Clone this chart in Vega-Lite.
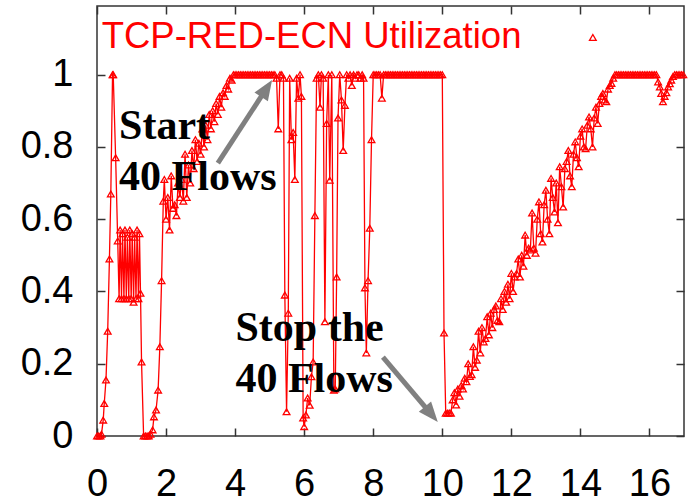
{
  "$schema": "https://vega.github.io/schema/vega-lite/v6.json",
  "width": 587,
  "height": 430,
  "autosize": {"type": "none"},
  "padding": {"left": 97, "top": 6, "right": 5, "bottom": 66},
  "background": "white",
  "config": {
    "view": {"stroke": "#333333", "strokeWidth": 1.5},
    "axis": {
      "grid": false,
      "domain": false,
      "title": null,
      "tickColor": "#333333",
      "tickWidth": 1.5,
      "tickSize": -8,
      "labelFlush": false,
      "labelColor": "#000000"
    }
  },
  "datasets": {
    "util": [
      {"t":0,"u":0},{"t":0.05,"u":0},{"t":0.1,"u":0},{"t":0.13,"u":0.005},{"t":0.18,"u":0.044},{"t":0.21,"u":0.09},{"t":0.26,"u":0.155},{"t":0.31,"u":0.29},{"t":0.36,"u":0.49},{"t":0.4,"u":0.67},{"t":0.45,"u":1},{"t":0.47,"u":1},{"t":0.54,"u":0.77},{"t":0.6,"u":0.54},{"t":0.64,"u":0.38},{"t":0.67,"u":0.57},{"t":0.71,"u":0.38},{"t":0.74,"u":0.56},{"t":0.78,"u":0.38},{"t":0.81,"u":0.57},{"t":0.85,"u":0.38},{"t":0.88,"u":0.55},{"t":0.92,"u":0.38},{"t":0.95,"u":0.57},{"t":0.99,"u":0.38},{"t":1.02,"u":0.56},{"t":1.06,"u":0.37},{"t":1.09,"u":0.55},{"t":1.13,"u":0.38},{"t":1.16,"u":0.57},{"t":1.2,"u":0.38},{"t":1.23,"u":0.56},{"t":1.26,"u":0.395},{"t":1.29,"u":0.205},{"t":1.35,"u":0},{"t":1.4,"u":0},{"t":1.45,"u":0},{"t":1.5,"u":0},{"t":1.55,"u":0.005},{"t":1.61,"u":0.017},{"t":1.65,"u":0.053},{"t":1.71,"u":0.072},{"t":1.77,"u":0.127},{"t":1.82,"u":0.247},{"t":1.87,"u":0.43},{"t":1.92,"u":0.65},{"t":1.95,"u":0.71},
      {"t":2.0,"u":0.6},{"t":2.05,"u":0.66},{"t":2.1,"u":0.57},{"t":2.15,"u":0.72},{"t":2.2,"u":0.63},{"t":2.25,"u":0.64},{"t":2.3,"u":0.61},{"t":2.35,"u":0.7},{"t":2.4,"u":0.66},{"t":2.45,"u":0.71},{"t":2.5,"u":0.65},{"t":2.55,"u":0.78},{"t":2.6,"u":0.66},{"t":2.65,"u":0.75},{"t":2.7,"u":0.7},{"t":2.75,"u":0.79},{"t":2.8,"u":0.74},{"t":2.85,"u":0.82},{"t":2.9,"u":0.76},{"t":2.95,"u":0.81},{"t":3.0,"u":0.78},{"t":3.05,"u":0.85},{"t":3.1,"u":0.8},{"t":3.15,"u":0.86},{"t":3.2,"u":0.82},{"t":3.25,"u":0.89},{"t":3.3,"u":0.85},{"t":3.35,"u":0.9},{"t":3.4,"u":0.87},{"t":3.45,"u":0.92},{"t":3.5,"u":0.89},{"t":3.55,"u":0.94},{"t":3.6,"u":0.91},{"t":3.65,"u":0.95},{"t":3.7,"u":0.94},{"t":3.75,"u":0.97},{"t":3.8,"u":0.96},{"t":3.85,"u":0.99},{"t":3.9,"u":0.985},{"t":3.95,"u":1},
      {"t":4.0,"u":1},{"t":4.05,"u":1},{"t":4.1,"u":1},{"t":4.15,"u":1},{"t":4.2,"u":1},{"t":4.25,"u":1},{"t":4.3,"u":1},{"t":4.35,"u":1},{"t":4.4,"u":1},{"t":4.45,"u":1},{"t":4.5,"u":1},{"t":4.55,"u":1},{"t":4.6,"u":1},{"t":4.65,"u":1},{"t":4.7,"u":1},{"t":4.75,"u":1},{"t":4.8,"u":1},{"t":4.85,"u":1},{"t":4.9,"u":1},{"t":4.95,"u":1},{"t":5.0,"u":1},{"t":5.05,"u":1},{"t":5.1,"u":1},{"t":5.15,"u":1},
      {"t":5.2,"u":0.99},{"t":5.25,"u":0.85},{"t":5.3,"u":1},{"t":5.35,"u":1},{"t":5.4,"u":0.99},{"t":5.44,"u":0.39},{"t":5.49,"u":0.067},{"t":5.54,"u":0.34},{"t":5.58,"u":0.99},{"t":5.63,"u":0.82},{"t":5.68,"u":0.84},{"t":5.73,"u":0.71},{"t":5.78,"u":0.99},{"t":5.83,"u":0.935},{"t":5.88,"u":1},{"t":5.92,"u":0.94},{"t":5.97,"u":0.05},{"t":6.0,"u":0.026},{"t":6.05,"u":0.058},{"t":6.1,"u":0.105},{"t":6.16,"u":0.085},{"t":6.21,"u":0.164},{"t":6.26,"u":0.205},{"t":6.31,"u":0.61},{"t":6.36,"u":0.99},{"t":6.41,"u":1},{"t":6.46,"u":0.91},{"t":6.5,"u":1},{"t":6.55,"u":0.99},{"t":6.6,"u":0.316},{"t":6.65,"u":0.865},{"t":6.7,"u":1},{"t":6.74,"u":0.708},{"t":6.8,"u":1},{"t":6.86,"u":0.127},{"t":6.9,"u":0.13},{"t":6.94,"u":0.44},{"t":6.98,"u":0.88},{"t":7.03,"u":1},{"t":7.08,"u":0.93},{"t":7.13,"u":0.79},{"t":7.18,"u":0.915},{"t":7.23,"u":1},{"t":7.28,"u":0.99},{"t":7.33,"u":1},{"t":7.38,"u":0.97},{"t":7.43,"u":1},{"t":7.48,"u":0.99},{"t":7.53,"u":1},{"t":7.58,"u":1},{"t":7.63,"u":0.99},{"t":7.68,"u":1},{"t":7.72,"u":0.99},{"t":7.76,"u":0.41},{"t":7.8,"u":0.23},{"t":7.85,"u":0.43},{"t":7.9,"u":0.575},{"t":7.95,"u":0.82},
      {"t":8.0,"u":1},{"t":8.05,"u":1},{"t":8.1,"u":1},{"t":8.15,"u":1},{"t":8.2,"u":1},{"t":8.25,"u":0.935},{"t":8.3,"u":1},{"t":8.35,"u":1},{"t":8.4,"u":1},{"t":8.45,"u":1},{"t":8.5,"u":1},{"t":8.55,"u":1},{"t":8.6,"u":1},{"t":8.65,"u":1},{"t":8.7,"u":1},{"t":8.75,"u":1},{"t":8.8,"u":1},{"t":8.85,"u":1},{"t":8.9,"u":1},{"t":8.95,"u":1},{"t":9.0,"u":1},{"t":9.05,"u":1},{"t":9.1,"u":1},{"t":9.15,"u":1},{"t":9.2,"u":1},{"t":9.25,"u":1},{"t":9.3,"u":1},{"t":9.35,"u":1},{"t":9.4,"u":1},{"t":9.45,"u":1},{"t":9.5,"u":1},{"t":9.55,"u":1},{"t":9.6,"u":1},{"t":9.65,"u":1},{"t":9.7,"u":1},{"t":9.75,"u":1},{"t":9.8,"u":1},{"t":9.85,"u":1},{"t":9.9,"u":1},{"t":9.95,"u":1},{"t":10.0,"u":1},
      {"t":10.05,"u":0.285},{"t":10.1,"u":0.063},{"t":10.15,"u":0.063},{"t":10.2,"u":0.064},{"t":10.25,"u":0.063},{"t":10.3,"u":0.1},{"t":10.35,"u":0.12},{"t":10.4,"u":0.086},{"t":10.45,"u":0.13},{"t":10.5,"u":0.11},{"t":10.55,"u":0.14},{"t":10.6,"u":0.13},{"t":10.65,"u":0.16},{"t":10.7,"u":0.15},{"t":10.75,"u":0.2},{"t":10.8,"u":0.165},{"t":10.85,"u":0.17},{"t":10.9,"u":0.247},{"t":10.95,"u":0.19},{"t":11.0,"u":0.21},{"t":11.05,"u":0.29},{"t":11.1,"u":0.23},{"t":11.15,"u":0.3},{"t":11.2,"u":0.26},{"t":11.25,"u":0.27},{"t":11.3,"u":0.33},{"t":11.35,"u":0.28},{"t":11.4,"u":0.34},{"t":11.45,"u":0.3},{"t":11.5,"u":0.35},{"t":11.55,"u":0.36},{"t":11.6,"u":0.32},{"t":11.65,"u":0.316},{"t":11.7,"u":0.38},{"t":11.75,"u":0.35},{"t":11.8,"u":0.4},{"t":11.85,"u":0.37},{"t":11.9,"u":0.42},{"t":11.95,"u":0.38},{"t":12.0,"u":0.45},{"t":12.05,"u":0.4},{"t":12.1,"u":0.44},{"t":12.15,"u":0.45},{"t":12.2,"u":0.49},{"t":12.25,"u":0.44},{"t":12.3,"u":0.5},{"t":12.35,"u":0.47},{"t":12.4,"u":0.556},{"t":12.45,"u":0.5},{"t":12.5,"u":0.52},{"t":12.55,"u":0.515},{"t":12.6,"u":0.617},{"t":12.65,"u":0.52},{"t":12.7,"u":0.506},{"t":12.75,"u":0.6},{"t":12.8,"u":0.648},{"t":12.85,"u":0.56},{"t":12.9,"u":0.537},{"t":12.95,"u":0.64},{"t":13.0,"u":0.68},{"t":13.05,"u":0.6},{"t":13.1,"u":0.56},{"t":13.15,"u":0.713},{"t":13.2,"u":0.66},{"t":13.25,"u":0.62},{"t":13.3,"u":0.7},{"t":13.35,"u":0.59},{"t":13.4,"u":0.745},{"t":13.45,"u":0.69},{"t":13.5,"u":0.634},{"t":13.55,"u":0.74},{"t":13.6,"u":0.76},{"t":13.65,"u":0.79},{"t":13.7,"u":0.72},{"t":13.75,"u":0.69},{"t":13.8,"u":0.78},{"t":13.85,"u":0.814},{"t":13.9,"u":0.77},{"t":13.95,"u":0.745},{"t":14.0,"u":0.83},{"t":14.05,"u":0.85},{"t":14.1,"u":0.8},{"t":14.15,"u":0.795},{"t":14.2,"u":0.86},{"t":14.25,"u":0.883},{"t":14.3,"u":0.85},{"t":14.35,"u":0.8},{"t":14.4,"u":0.88},{"t":14.45,"u":0.91},{"t":14.5,"u":0.865},{"t":14.55,"u":0.92},{"t":14.6,"u":0.94},{"t":14.65,"u":0.948},{"t":14.7,"u":0.93},{"t":14.75,"u":0.925},{"t":14.8,"u":0.96},{"t":14.85,"u":0.97},{"t":14.9,"u":0.976},{"t":14.95,"u":0.99},{"t":15.0,"u":1},
      {"t":15.05,"u":1},{"t":15.1,"u":1},{"t":15.15,"u":1},{"t":15.2,"u":1},{"t":15.25,"u":1},{"t":15.3,"u":1},{"t":15.35,"u":1},{"t":15.4,"u":1},{"t":15.45,"u":1},{"t":15.5,"u":1},{"t":15.55,"u":1},{"t":15.6,"u":1},{"t":15.65,"u":1},{"t":15.7,"u":1},{"t":15.75,"u":1},{"t":15.8,"u":1},{"t":15.85,"u":1},{"t":15.9,"u":1},{"t":15.95,"u":1},{"t":16.0,"u":1},{"t":16.05,"u":1},{"t":16.1,"u":1},{"t":16.15,"u":1},{"t":16.2,"u":1},{"t":16.25,"u":0.98},{"t":16.3,"u":0.966},{"t":16.34,"u":0.948},{"t":16.39,"u":0.925},{"t":16.44,"u":0.94},{"t":16.49,"u":0.95},{"t":16.54,"u":0.966},{"t":16.59,"u":0.975},{"t":16.63,"u":0.985},{"t":16.68,"u":0.995},{"t":16.73,"u":1},{"t":16.78,"u":1},{"t":16.83,"u":1},{"t":16.88,"u":1},{"t":16.93,"u":1},{"t":16.98,"u":1}
    ],
    "notes": [
      {"t":0.64,"u":0.821,"label":"Start"},
      {"t":0.64,"u":0.680,"label":"40 Flows"},
      {"t":4.01,"u":0.264,"label":"Stop the"},
      {"t":4.01,"u":0.123,"label":"40 Flows"}
    ],
    "arrows": [
      {"id":"start","t":3.5,"u":0.755,"t2":4.8,"u2":0.946,"tipT":5.07,"tipU":0.985},
      {"id":"stop","t":8.28,"u":0.218,"t2":9.55,"u2":0.075,"tipT":9.87,"tipU":0.039}
    ],
    "key": [
      {"t":0.135,"u":1.075,"label":"TCP-RED-ECN Utilization","mt":14.36,"mu":1.103}
    ]
  },
  "layer": [
    {
      "data": {"name": "util"},
      "mark": {"type": "line", "color": "#ff0000", "strokeWidth": 1.3},
      "encoding": {
        "x": {"field": "t", "type": "quantitative", "scale": {"domain": [0, 17], "nice": false},
              "axis": {"orient": "bottom", "values": [0,2,4,6,8,10,12,14,16], "labelPadding": 37, "format": "~g", "labelFlush": false,
                       "labelFont": "Liberation Sans", "labelFontSize": 38, "labelColor": "#000000"}},
        "y": {"field": "u", "type": "quantitative", "scale": {"domain": [0, 1.19], "nice": false, "zero": false},
              "axis": {"orient": "left", "values": [0,0.2,0.4,0.6,0.8,1], "labelPadding": 32, "format": "~g", "labelFlush": false,
                       "labelFont": "Liberation Sans", "labelFontSize": 38, "labelColor": "#000000"}}
      }
    },
    {
      "data": {"name": "util"},
      "mark": {"type": "point", "shape": "triangle-up", "filled": false, "color": "#ff0000", "size": 45, "strokeWidth": 1.3, "opacity": 1},
      "encoding": {
        "x": {"field": "t", "type": "quantitative", "axis": null},
        "y": {"field": "u", "type": "quantitative", "axis": null}
      }
    },
    {
      "data": {"name": "util"},
      "mark": {"type": "point", "opacity": 0},
      "encoding": {
        "x": {"field": "t", "type": "quantitative",
              "axis": {"orient": "top", "values": [0,2,4,6,8,10,12,14,16], "labels": false}},
        "y": {"field": "u", "type": "quantitative",
              "axis": {"orient": "right", "values": [0,0.2,0.4,0.6,0.8,1], "labels": false}}
      }
    },
    {
      "data": {"name": "arrows"},
      "mark": {"type": "rule", "color": "#808080", "strokeWidth": 5},
      "encoding": {
        "x": {"field": "t", "type": "quantitative", "axis": null},
        "y": {"field": "u", "type": "quantitative", "axis": null},
        "x2": {"field": "t2"},
        "y2": {"field": "u2"}
      }
    },
    {
      "data": {"name": "arrows"},
      "transform": [{"filter": "datum.id === 'start'"}],
      "mark": {"type": "point", "shape": "M0,0L-0.8,2L0.8,2Z", "filled": true, "color": "#808080", "size": 400, "angle": 33, "opacity": 1, "strokeWidth": 0},
      "encoding": {
        "x": {"field": "tipT", "type": "quantitative", "axis": null},
        "y": {"field": "tipU", "type": "quantitative", "axis": null}
      }
    },
    {
      "data": {"name": "arrows"},
      "transform": [{"filter": "datum.id === 'stop'"}],
      "mark": {"type": "point", "shape": "M0,0L-0.8,2L0.8,2Z", "filled": true, "color": "#808080", "size": 400, "angle": 140, "opacity": 1, "strokeWidth": 0},
      "encoding": {
        "x": {"field": "tipT", "type": "quantitative", "axis": null},
        "y": {"field": "tipU", "type": "quantitative", "axis": null}
      }
    },
    {
      "data": {"name": "notes"},
      "mark": {"type": "text", "font": "Liberation Serif", "fontWeight": "bold", "fontSize": 42, "align": "left", "baseline": "alphabetic", "color": "#000000"},
      "encoding": {
        "x": {"field": "t", "type": "quantitative", "axis": null},
        "y": {"field": "u", "type": "quantitative", "axis": null},
        "text": {"field": "label"}
      }
    },
    {
      "data": {"name": "key"},
      "mark": {"type": "text", "font": "Liberation Sans", "fontSize": 36.5, "align": "left", "baseline": "alphabetic", "color": "#ff0000"},
      "encoding": {
        "x": {"field": "t", "type": "quantitative", "axis": null},
        "y": {"field": "u", "type": "quantitative", "axis": null},
        "text": {"field": "label"}
      }
    },
    {
      "data": {"name": "key"},
      "mark": {"type": "point", "shape": "triangle-up", "filled": false, "color": "#ff0000", "size": 45, "strokeWidth": 1.3, "opacity": 1},
      "encoding": {
        "x": {"field": "mt", "type": "quantitative", "axis": null},
        "y": {"field": "mu", "type": "quantitative", "axis": null}
      }
    }
  ],
  "resolve": {"axis": {"x": "independent", "y": "independent"}}
}
